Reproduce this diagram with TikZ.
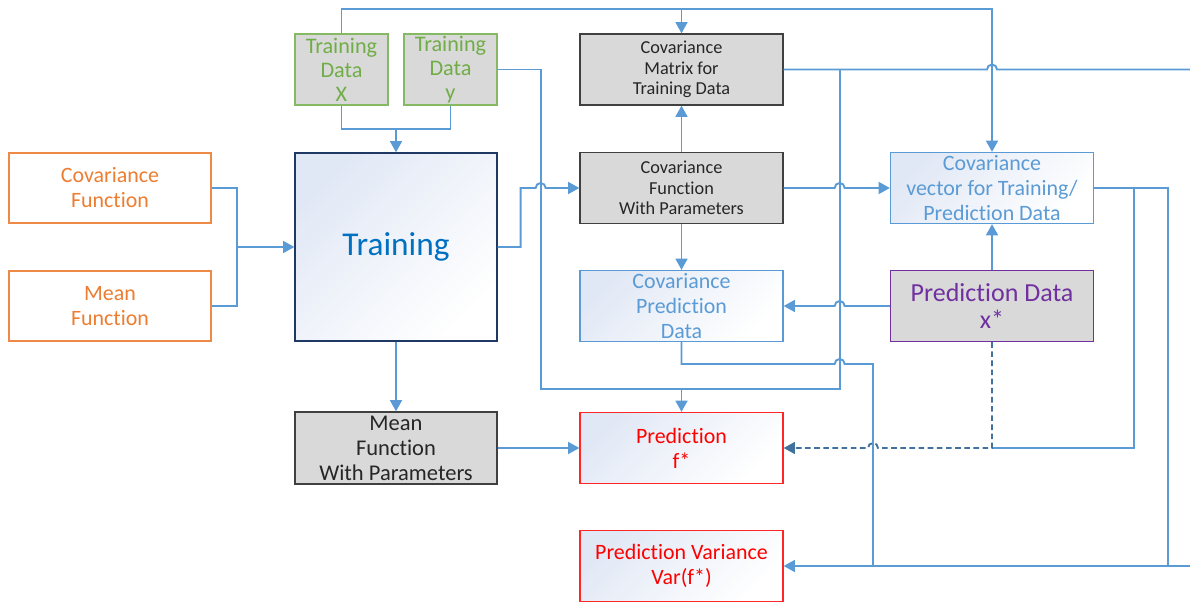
\documentclass[tikz,border=0pt]{standalone}
\usepackage{xcolor}
\usepackage{fontspec}
\setmainfont{Carlito}[Ligatures={NoCommon}]
\usepackage{tikz}
\usetikzlibrary{positioning, arrows.meta, calc}
\definecolor{linkblue}{HTML}{5B9BD5}
\definecolor{boxgray}{HTML}{D9D9D9}
\definecolor{darkedge}{HTML}{404040}
\definecolor{datagreen}{HTML}{70AD47}
\definecolor{funcorange}{HTML}{ED7D31}
\definecolor{trainnavy}{HTML}{203864}
\definecolor{trainblue}{HTML}{0070C0}
\definecolor{predpurple}{HTML}{7030A0}
\definecolor{predred}{HTML}{FF0000}
\definecolor{dashblue}{HTML}{41719C}
\definecolor{shadeblue}{HTML}{E1E8F5}

\tikzset{
    box/.style={draw, line width=0.9pt, inner sep=0pt, align=center,
                minimum width=5.075cm, minimum height=1.775cm},
    midfont/.style={font=\fontsize{15.6}{17.8}\selectfont},
    graybox/.style={box, fill=boxgray, draw=darkedge, text=black!85,
                    font=\fontsize{13}{14.6}\selectfont},
    softbox/.style={box, midfont, top color=shadeblue, bottom color=white, shading angle=45},
    databox/.style={box, fill=boxgray, draw=datagreen!85, text=datagreen,
                    minimum width=2.325cm, font=\fontsize{15.8}{17.1}\selectfont},
    funcbox/.style={box, midfont, draw=funcorange!90, text=funcorange,
                    minimum width=5.05cm, minimum height=1.75cm},
    link/.style={draw=linkblue, line width=1.35pt},
    arr/.style={-{Triangle[length=8pt,width=8.5pt]}}
}

\begin{document}
\begin{tikzpicture}[x=0.025cm, y=0.025cm]
    \fill[white] (0,0) rectangle (1190,-602);
    \useasboundingbox (0,0) rectangle (1190,-602);

    % boxes
    \node[databox] (tdx) at (341.5,-69.5) {Training\\Data\\X};
    \node[databox] (tdy) at (450.5,-69.5) {Training\\Data\\y};
    \node[graybox] (covmat) at (681.5,-69.5) {Covariance\\Matrix for\\Training Data};
    \node[funcbox] (covfun) at (110,-188) {Covariance\\Function};
    \node[funcbox] (meanfun) at (110,-306) {Mean\\Function};
    \node[box, draw=trainnavy, text=trainblue, top color=shadeblue, bottom color=white,
          shading angle=45, minimum width=5.05cm, minimum height=4.7cm,
          font=\fontsize{23.7}{26}\selectfont] (train) at (396,-247) {Training};
    \node[graybox] (covpar) at (681.5,-188) {Covariance\\Function\\With Parameters};
    \node[softbox, draw=linkblue, text=linkblue] (covvec) at (992,-188)
        {Covariance\\vector for Training/\\Prediction Data};
    \node[softbox, draw=linkblue, text=linkblue] (covpred) at (681.5,-306)
        {Covariance\\Prediction\\Data};
    \node[box, fill=boxgray, draw=predpurple, text=predpurple,
          font=\fontsize{18.5}{19}\selectfont] (preddat) at (992,-306) {Prediction Data\\x*};
    \node[graybox, minimum width=5.05cm, minimum height=1.8cm,
          font=\fontsize{16}{17.8}\selectfont] (meanpar) at (396,-448)
        {Mean\\Function\\With Parameters};
    \node[softbox, draw=predred!85, text=predred] (pred) at (681.5,-448) {Prediction\\f*};
    \node[softbox, draw=predred!85, text=predred] (predvar) at (681.5,-566)
        {Prediction Variance\\Var(f*)};

    % bus lines
    \coordinate (topbus) at ($(tdx.north)+(0,24)$);
    \coordinate (xybus) at ($(tdx.south)+(0,-23)$);
    \coordinate (fbus) at ($(covfun.east)!0.5!(meanfun.east)+(25,0)$);
    \coordinate (ylane) at ($(tdy.east)+(43,0)$);
    \coordinate (mlane) at ($(covmat.east)+(56,0)$);
    \coordinate (predbus) at ($(pred.north)+(0,23)$);
    \coordinate (vlane) at (873,-364);
    \coordinate (alane) at (1134,-188);
    \coordinate (blane) at (1168,-188);
    \coordinate (edgeA) at (1190,-69.5);
    \coordinate (edgeB) at (1190,-566);

    % training data feeds
    \draw[link, arr] (tdx.north) -- (topbus) -| (covvec.north);
    \draw[link, arr] (topbus -| covmat.north) -- (covmat.north);
    \draw[link] (tdx.south) -- (xybus) -| (tdy.south);
    \draw[link, arr] (xybus -| train.north) -- (train.north);
    \draw[link] (tdy.east) -- (ylane) |- (mlane |- predbus) -- (mlane);
    \draw[link, arr] (predbus) -- (pred.north);

    % functions into training
    \draw[link] (covfun.east) -| (fbus) |- (meanfun.east);
    \draw[link, arr] (fbus) -- (fbus -| train.west);

    % covariance chain
    \draw[link, arr] (train.east) -- ++(23,0)
        |- ($(ylane |- covpar.west)+(-5,0)$) arc[start angle=180, end angle=0, radius=5]
        -- (covpar.west);
    \draw[link, arr] (covpar.north) -- (covmat.south);
    \draw[link] (covmat.east)
        -- ($(covvec.north |- covmat.east)+(-5,0)$) arc[start angle=180, end angle=0, radius=5]
        -- (edgeA);
    \draw[link, arr] (covpar.east)
        -- ($(mlane |- covpar.east)+(-5,0)$) arc[start angle=180, end angle=0, radius=5]
        -- (covvec.west);
    \draw[link, arr] (covpar.south) -- (covpred.north);
    \draw[link, arr] (preddat.west)
        -- ($(mlane |- preddat.west)+(5,0)$) arc[start angle=0, end angle=180, radius=5]
        -- (covpred.east);
    \draw[link, arr] (preddat.north) -- (covvec.south);

    % towards the predictions
    \draw[link] (covpred.south) -- (covpred.south |- vlane)
        -- ($(mlane |- vlane)+(-5,0)$) arc[start angle=180, end angle=0, radius=5]
        -- (vlane) -- (vlane |- predvar.east);
    \draw[link] (covvec.east) -- (blane) -- (blane |- predvar.east);
    \draw[link] (alane) -- (alane |- pred.east) -- (preddat.south |- pred.east);
    \draw[link, draw=dashblue, dash pattern=on 4pt off 2.5pt, arr] (preddat.south)
        |- ($(vlane |- pred.east)+(5,0)$) arc[start angle=0, end angle=180, radius=5]
        -- (pred.east);
    \draw[link, arr] (edgeB) -- (predvar.east);
    \draw[link, arr] (train.south) -- (meanpar.north);
    \draw[link, arr] (meanpar.east) -- (pred.west);
\end{tikzpicture}
\end{document}
